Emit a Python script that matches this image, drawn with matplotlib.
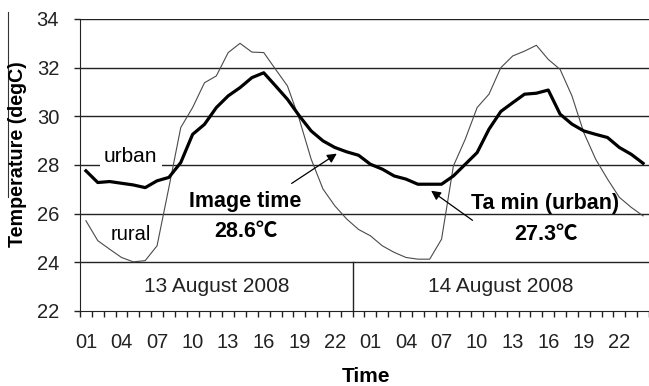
import numpy as np
import matplotlib
matplotlib.use("Agg")
from matplotlib import pyplot as plt
from matplotlib.lines import Line2D

plt.rcParams['font.family'] = ['Liberation Sans', 'DejaVu Sans']

# hourly values, 13-14 August 2008
hours = [f"{h:02d}" for h in range(1, 25)] * 2
urban = [27.76, 27.28, 27.32, 27.25, 27.18, 27.07, 27.35, 27.49, 28.10, 29.26,
         29.67, 30.36, 30.84, 31.18, 31.59, 31.79, 31.25, 30.70, 30.02, 29.40,
         28.99, 28.72, 28.54, 28.40, 28.03, 27.83, 27.55, 27.42, 27.21, 27.21,
         27.21, 27.55, 28.03, 28.51, 29.47, 30.20, 30.56, 30.91, 30.95, 31.08,
         30.09, 29.68, 29.40, 29.26, 29.13, 28.72, 28.44, 28.07]
rural = [25.71, 24.89, 24.54, 24.20, 24.02, 24.07, 24.68, 27.08, 29.54, 30.36,
         31.38, 31.66, 32.62, 33.00, 32.64, 32.62, 31.93, 31.25, 29.88, 28.24,
         27.01, 26.32, 25.78, 25.35, 25.09, 24.68, 24.41, 24.20, 24.13, 24.13,
         24.95, 27.96, 29.06, 30.36, 30.91, 32.00, 32.48, 32.68, 32.92, 32.34,
         31.93, 30.84, 29.33, 28.24, 27.42, 26.67, 26.26, 25.91]
dates = ["13 August 2008", "14 August 2008"]

x = np.arange(len(urban))
degc_font = ['Liberation Sans', 'Noto Sans CJK SC', 'DejaVu Sans']

fig = plt.figure(figsize=(6.49, 3.86), dpi=100)
ax = fig.add_axes([80/649, 75/386, 569/649, 292/386])

ax.plot(x, rural, color='#4a4a4a', lw=0.8, zorder=3)
ax.plot(x, urban, color='black', lw=2.3, zorder=4)

ax.set_xlim(-0.5, -0.5 + 569/11.89)
ax.set_ylim(22, 34)

# grid lines and date band
for v in range(24, 35, 2):
    ax.axhline(v, color='#222222', lw=1.0, zorder=1)
ax.plot([22.5, 22.5], [22, 24], color='#222222', lw=1.0, zorder=1)
ax.text(11, 23, dates[0], ha='center', va='center', fontsize=15, color='#222222')
ax.text(35, 23, dates[1], ha='center', va='center', fontsize=15, color='#222222')

for s in ['top', 'right']:
    ax.spines[s].set_visible(False)
ax.spines['left'].set_color('#222222')
ax.spines['bottom'].set_color('#222222')

ax.set_xticks(x[::3])
ax.set_xticklabels(hours[::3])
ax.set_xticks(np.arange(-0.5, 48, 1), minor=True)
ax.tick_params(axis='x', which='major', length=0, pad=16, labelsize=14.5, labelcolor='#222222')
ax.tick_params(axis='x', which='minor', length=4, width=1, color='#222222')
ax.set_yticks(range(22, 35, 2))
ax.tick_params(axis='y', length=4, width=1, color='#222222', pad=11, labelsize=14.5, labelcolor='#222222')

ax.text(3.78, 28.33, "urban", ha='center', va='center', fontsize=15, zorder=5,
        bbox=dict(facecolor='white', edgecolor='none', pad=3))
ax.text(3.78, 25.16, "rural", ha='center', va='center', fontsize=14.5)

ax.annotate("", xy=(21.36, 28.53), xytext=(17.16, 27.18),
            arrowprops=dict(arrowstyle='-|>', color='black', lw=0.9, mutation_scale=14))
ax.text(13.46, 26.48, "Image time", ha='center', va='center', fontsize=15.5, fontweight='bold')
ax.text(13.46, 25.25, "28.6℃", ha='center', va='center', fontsize=15.5, fontweight='bold',
        family=degc_font)

ax.annotate("", xy=(28.93, 27.01), xytext=(32.8, 25.66),
            arrowprops=dict(arrowstyle='-|>', color='black', lw=0.9, mutation_scale=14))
ax.text(38.69, 26.40, "Ta min (urban)", ha='center', va='center', fontsize=15.5, fontweight='bold')
ax.text(38.77, 25.16, "27.3℃", ha='center', va='center', fontsize=15.5, fontweight='bold',
        family=degc_font)

fig.text(18/649, 1 - 154/386, "Temperature (degC)", rotation=90, ha='center', va='center',
         fontsize=14.2, fontweight='bold')
fig.text(366/649, 1 - 376/386, "Time", ha='center', va='center', fontsize=15, fontweight='bold')
fig.add_artist(Line2D([8/649, 8/649], [1 - 12/386, 1 - 197/386], color='#333333', lw=0.8))

fig.savefig("out.png", dpi=100)
